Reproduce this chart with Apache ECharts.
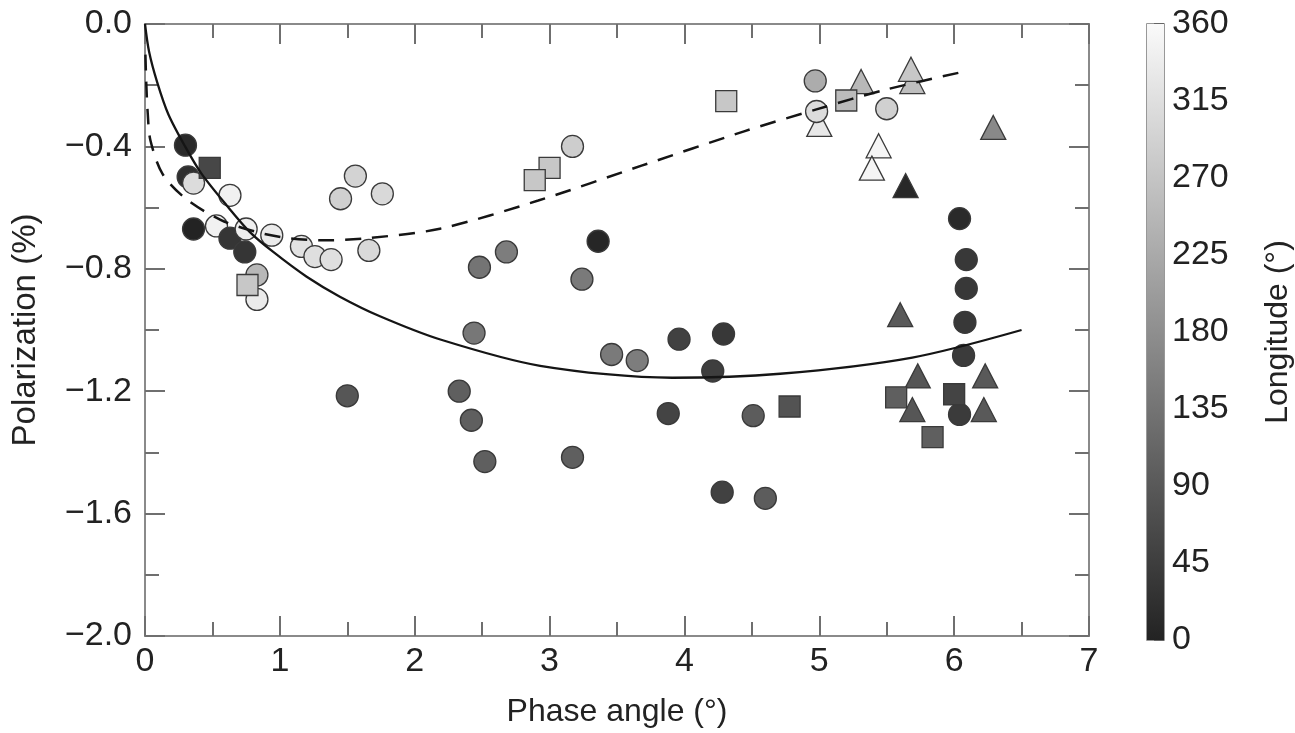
<!DOCTYPE html>
<html>
<head>
<meta charset="utf-8">
<script src="https://cdn.jsdelivr.net/npm/echarts@6/dist/echarts.min.js"></script>
<style>
html,body{margin:0;padding:0;background:#fff;}
#chart{width:1295px;height:733px;}
</style>
</head>
<body>
<div id="chart"></div>
<script>
// ---- data ----
const circlePhase = [0.30,0.32,0.36,0.63,0.36,0.53,0.63,0.75,0.74,0.94,1.16,1.26,1.38,1.66,1.56,1.45,1.76,0.83,0.83,
  3.17,3.36,2.68,2.48,3.24,4.97,4.98,5.50,6.04,6.09,6.09,6.08,6.07,6.04,2.44,3.46,3.65,3.96,4.29,4.21,2.33,2.42,2.52,3.17,3.88,4.51,4.28,4.60,1.50];
const circlePol = [-0.396,-0.50,-0.52,-0.56,-0.67,-0.66,-0.70,-0.67,-0.745,-0.69,-0.727,-0.76,-0.77,-0.74,-0.497,-0.571,-0.555,-0.82,-0.90,
  -0.40,-0.71,-0.745,-0.795,-0.834,-0.186,-0.286,-0.277,-0.636,-0.77,-0.864,-0.975,-1.083,-1.276,-1.01,-1.08,-1.10,-1.03,-1.013,-1.134,-1.20,-1.295,-1.43,-1.416,-1.273,-1.28,-1.53,-1.55,-1.215];
const circleLon = [10,20,310,345,0,345,30,340,30,335,320,315,315,305,295,290,305,250,335,
  285,5,150,135,145,230,310,290,12,35,35,35,40,40,140,145,150,50,35,45,100,100,100,100,55,95,50,95,85];

const squarePhase = [0.48,0.76,4.31,3.00,2.89,5.20,5.57,6.00,5.84,4.78];
const squarePol = [-0.47,-0.853,-0.252,-0.47,-0.51,-0.25,-1.22,-1.21,-1.35,-1.25];
const squareLon = [60,275,275,275,275,255,100,55,100,80];

const trianglePhase = [5.31,5.69,5.68,5.00,5.44,5.39,5.64,6.29,5.60,5.73,6.23,5.69,6.22];
const trianglePol = [-0.188,-0.188,-0.148,-0.328,-0.398,-0.471,-0.528,-0.338,-0.95,-1.15,-1.15,-1.26,-1.26];
const triangleLon = [250,260,275,330,352,352,8,170,90,85,90,85,90];

const solidPhase = [0,0.03,0.09,0.173,0.297,0.42,0.606,0.778,0.951,1.199,1.445,1.742,2.19,2.93,3.91,4.71,5.69,6.5];
const solidPol = [0,-0.09,-0.19,-0.295,-0.40,-0.49,-0.593,-0.68,-0.745,-0.826,-0.891,-0.955,-1.031,-1.117,-1.156,-1.143,-1.09,-1.0];

const dashedPhase = [0.003,0.01,0.02,0.04,0.13,0.30,0.56,0.83,1.07,1.35,1.65,2.187,2.916,3.682,4.448,4.979,5.498,6.08];
const dashedPol = [-0.10,-0.20,-0.29,-0.38,-0.49,-0.57,-0.64,-0.68,-0.70,-0.707,-0.70,-0.669,-0.577,-0.463,-0.35,-0.279,-0.214,-0.155];

const colorbarRange = [0, 360];
// ---------------------------------------

function zip3(a,b,c){ return a.map((v,i)=>[v,b[i],c[i]]); }
function zip2(a,b){ return a.map((v,i)=>[v,b[i]]); }

const FONT = "'Liberation Sans', Arial, Helvetica, sans-serif";
const TXT = '#222';
const FRAME = '#8a8a8a';
const LBL = 34;
const TTL = 32;

const chart = echarts.init(document.getElementById('chart'), null, {renderer:'canvas'});

const mainTick = {show:true, inside:true, length:20, lineStyle:{color:'#6f6f6f', width:2}};
const minorTick = {show:true, splitNumber:2, length:14, lineStyle:{color:'#6f6f6f', width:2}};
const noLine = {show:false, onZero:false};

const markerBorder = {borderColor:'#3a3a3a', borderWidth:1.3, opacity:1};

chart.setOption({
  animation:false,
  backgroundColor:'#fff',
  grid:[
    {left:145, right:206, top:24, bottom:93, show:true, borderColor:FRAME, borderWidth:2, backgroundColor:'transparent'},
    {left:1147, width:20, top:24, bottom:93, show:true, borderColor:'#777', borderWidth:1.5, backgroundColor:'transparent'}
  ],
  xAxis:[
    {type:'value', gridIndex:0, min:0, max:7, interval:1, position:'bottom',
     axisLine:noLine, axisTick:mainTick, minorTick:minorTick, splitLine:{show:false},
     axisLabel:{fontFamily:FONT, fontSize:LBL, color:TXT, margin:9},
     name:'Phase angle (°)', nameLocation:'middle', nameGap:60,
     nameTextStyle:{fontFamily:FONT, fontSize:TTL, color:TXT}},
    {type:'value', gridIndex:0, min:0, max:7, interval:1, position:'top',
     axisLine:noLine, axisTick:mainTick, minorTick:minorTick, splitLine:{show:false},
     axisLabel:{show:false}},
    {type:'category', gridIndex:1, data:['bar'], show:false}
  ],
  yAxis:[
    {type:'value', gridIndex:0, min:-2, max:0, interval:0.4, position:'left',
     axisLine:noLine, axisTick:mainTick, minorTick:minorTick, splitLine:{show:false},
     axisLabel:{fontFamily:FONT, fontSize:LBL, color:TXT, margin:13,
       formatter:function(v){ return (v<0?'\u2212':'') + Math.abs(v).toFixed(1); }},
     name:'Polarization (%)', nameLocation:'middle', nameGap:103,
     nameTextStyle:{fontFamily:FONT, fontSize:33, color:TXT}},
    {type:'value', gridIndex:0, min:-2, max:0, interval:0.4, position:'right',
     axisLine:noLine, axisTick:mainTick, minorTick:minorTick, splitLine:{show:false},
     axisLabel:{show:false}},
    {type:'value', gridIndex:1, min:colorbarRange[0], max:colorbarRange[1], interval:45, position:'right',
     axisLine:noLine, axisTick:{show:true, inside:true, length:10, lineStyle:{color:'#555', width:1.5}},
     splitLine:{show:false},
     axisLabel:{fontFamily:FONT, fontSize:LBL, color:TXT, margin:8},
     name:'Longitude (°)', nameLocation:'middle', nameGap:98,
     nameTextStyle:{fontFamily:FONT, fontSize:TTL, color:TXT}}
  ],
  visualMap:{type:'continuous', show:false, min:colorbarRange[0], max:colorbarRange[1], dimension:2,
    seriesIndex:[0,1,2], inRange:{color:['#232323','#fafafa']}},
  series:[
    {type:'scatter', xAxisIndex:0, yAxisIndex:0, symbol:'triangle', symbolSize:[25,24], z:3,
     data:zip3(trianglePhase, trianglePol, triangleLon), itemStyle:markerBorder},
    {type:'scatter', xAxisIndex:0, yAxisIndex:0, symbol:'circle', symbolSize:22, z:4,
     data:zip3(circlePhase, circlePol, circleLon), itemStyle:markerBorder},
    {type:'scatter', xAxisIndex:0, yAxisIndex:0, symbol:'rect', symbolSize:21, z:5,
     data:zip3(squarePhase, squarePol, squareLon), itemStyle:markerBorder},
    {type:'line', xAxisIndex:0, yAxisIndex:0, data:zip2(solidPhase, solidPol), smooth:0.3, symbol:'none', z:6,
     lineStyle:{color:'#151515', width:2.3}},
    {type:'line', xAxisIndex:0, yAxisIndex:0, data:zip2(dashedPhase, dashedPol), smooth:0.3, symbol:'none', z:6,
     lineStyle:{color:'#151515', width:2.5, type:[16,11]}},
    {type:'bar', xAxisIndex:2, yAxisIndex:2, data:[colorbarRange[1]], barWidth:'100%', z:1,
     itemStyle:{color:new echarts.graphic.LinearGradient(0,0,0,1,[{offset:0,color:'#fafafa'},{offset:1,color:'#232323'}])}}
  ]
});
</script>
</body>
</html>
